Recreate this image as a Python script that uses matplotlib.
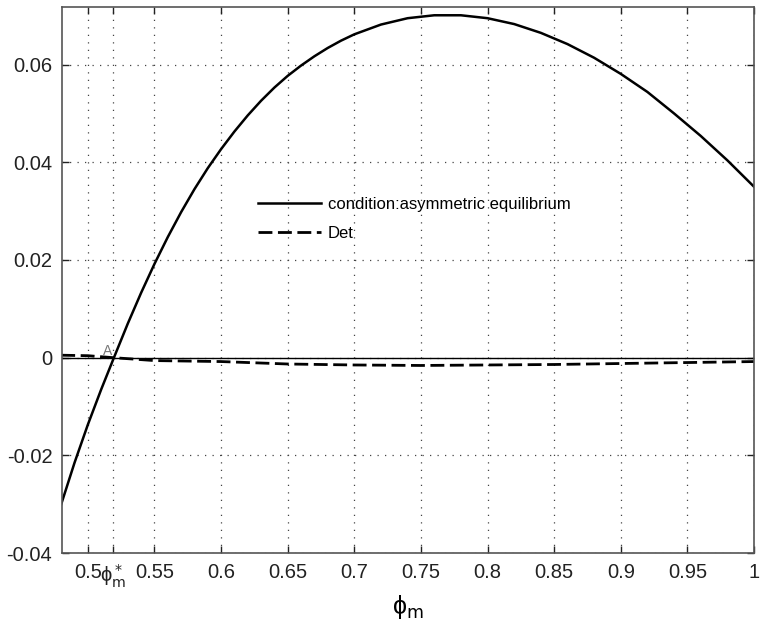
import matplotlib
matplotlib.use("Agg")
import matplotlib.pyplot as plt

# Solid curve: condition for asymmetric equilibrium
phi_cond = [0.48, 0.49, 0.50, 0.51, 0.52, 0.53, 0.54, 0.55, 0.56, 0.57, 0.58,
            0.59, 0.60, 0.61, 0.62, 0.63, 0.64, 0.65, 0.66, 0.67, 0.68, 0.69,
            0.70, 0.72, 0.74, 0.76, 0.78, 0.80, 0.82, 0.84, 0.86, 0.88, 0.90,
            0.92, 0.94, 0.96, 0.98, 1.00]
cond = [-0.0300, -0.0215, -0.0137, -0.0065, 0.0003, 0.0070, 0.0133, 0.0192,
        0.0247, 0.0298, 0.0345, 0.0388, 0.0427, 0.0463, 0.0496, 0.0526,
        0.0553, 0.0577, 0.0598, 0.0617, 0.0634, 0.0649, 0.0662, 0.0682,
        0.0695, 0.0701, 0.0701, 0.0695, 0.0683, 0.0665, 0.0642, 0.0614,
        0.0581, 0.0544, 0.0500, 0.0454, 0.0404, 0.0350]

# Dashed curve: Det
phi_det = [0.48, 0.50, 0.519, 0.55, 0.60, 0.65, 0.70, 0.75, 0.80, 0.85, 0.90, 0.95, 1.00]
det = [0.0005, 0.0004, 0.0000, -0.0006, -0.0008, -0.0013, -0.0015, -0.0016,
       -0.0015, -0.0014, -0.0012, -0.0010, -0.0008]

phi_star = 0.519
xticks = [0.5, phi_star, 0.55, 0.6, 0.65, 0.7, 0.75, 0.8, 0.85, 0.9, 0.95, 1.0]
xtick_labels = ["0.5", r"ϕ$^*_\mathrm{m}$", "0.55", "0.6", "0.65", "0.7", "0.75", "0.8",
                "0.85", "0.9", "0.95", "1"]
yticks = [-0.04, -0.02, 0, 0.02, 0.04, 0.06]
ytick_labels = ["-0.04", "-0.02", "0", "0.02", "0.04", "0.06"]

plt.rcParams["font.family"] = ["Liberation Sans", "DejaVu Sans"]
plt.rcParams["mathtext.fontset"] = "dejavusans"

fig = plt.figure(figsize=(7.63, 6.28), dpi=100)
ax = fig.add_axes([0.0813, 0.1194, 0.9069, 0.8695])

ax.plot(phi_cond, cond, color="black", lw=1.8, label="condition:asymmetric equilibrium")
ax.plot(phi_det, det, color="black", lw=2.0, ls=(0, (5, 2)), label="Det")
ax.axhline(0, color="black", lw=1.0)

ax.text(0.5113, 0.0006, "A", fontsize=10, color="#777777")

ax.set_xlim(0.4806, 1.0)
ax.set_ylim(-0.04, 0.0718)
ax.set_xticks(xticks)
ax.set_xticklabels(xtick_labels)
ax.set_yticks(yticks)
ax.set_yticklabels(ytick_labels)

ax.tick_params(direction="in", length=5, width=1, top=True, right=True,
               labelsize=14.5, pad=7, colors="#222222")
for s in ax.spines.values():
    s.set_color("#555555")
    s.set_linewidth(1.2)

ax.grid(True, color="#444444", lw=0.9, ls=(0, (1, 5)))

ax.set_xlabel(r"ϕ$_\mathrm{m}$", fontsize=18, labelpad=2)

ax.legend(loc="center left", bbox_to_anchor=(0.283, 0.612), frameon=False,
          fontsize=12, handlelength=3.8, handletextpad=0.4, labelspacing=0.8,
          borderpad=0, borderaxespad=0)

fig.savefig("out.png", dpi=100)
